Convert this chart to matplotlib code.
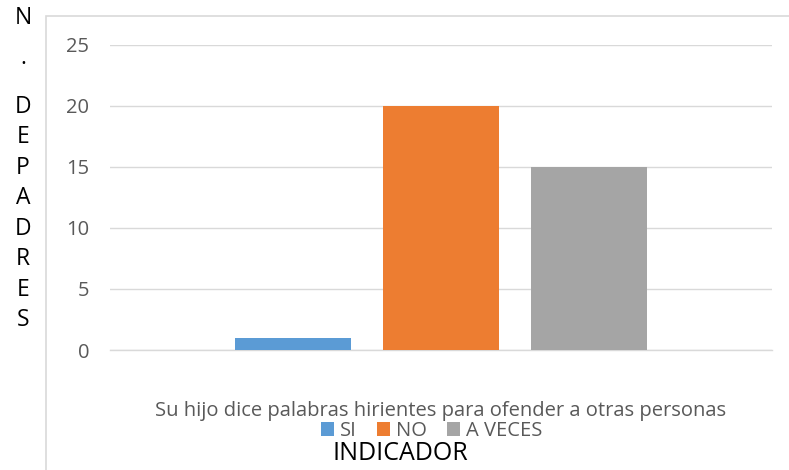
import matplotlib
matplotlib.use("Agg")
import matplotlib.pyplot as plt
from matplotlib.patches import Rectangle

# ── data ──────────────────────────────────────────────────────────────────────
category = "Su hijo dice palabras hirientes para ofender a otras personas"
series = ["SI", "NO", "A VECES"]
values = [1, 20, 15]
colors = ["#5B9BD5", "#ED7D31", "#A5A5A5"]
yticks = [0, 5, 10, 15, 20, 25]
ylabel_chars = ["N", ".", "D", "E", "P", "A", "D", "R", "E", "S"]

plt.rcParams["font.family"] = ["Open Sans", "DejaVu Sans"]

W, H = 789, 470
fig = plt.figure(figsize=(W / 100, H / 100), dpi=100)
ax = fig.add_axes([110 / W, 1 - 350 / H, 662 / W, 305 / H])

width = 0.175
step = 0.223
bars = []
for i, (name, v, c) in enumerate(zip(series, values, colors)):
    b = ax.bar((i - 1) * step, v, width=width, color=c, label=name, zorder=3)
    bars.append(b)

ax.set_xlim(-0.5, 0.5)
ax.set_ylim(0, 25)
ax.set_yticks(yticks)
ax.set_xticks([0])
ax.set_xticklabels([category])
ax.tick_params(axis="y", length=0, pad=15, labelsize=14.5, labelcolor="#595959")
ax.tick_params(axis="x", length=0, pad=37, labelsize=14.5, labelcolor="#595959")
ax.grid(axis="y", color="#D9D9D9", linewidth=1, zorder=0)
for s in ["top", "right", "left"]:
    ax.spines[s].set_visible(False)
ax.spines["bottom"].set_color("#D9D9D9")
ax.spines["bottom"].set_linewidth(1)

# legend below the category label
fig.legend(handles=[b[0] for b in bars], labels=series, loc="center",
           bbox_to_anchor=(432 / W, 1 - 431 / H), ncol=3, frameon=False,
           fontsize=14.5, handlelength=0.65, handleheight=0.65,
           handletextpad=0.3, columnspacing=1.0, labelcolor="#595959")

fig.text(400 / W, 1 - 453 / H, "INDICADOR", ha="center", va="center",
         fontsize=18, color="#000000")

# vertical y label, one character per line
ys = [18, 58, 107, 137, 168, 198, 229, 259, 290, 320]
for ch, y in zip(ylabel_chars, ys):
    fig.text(23 / W, 1 - y / H, ch, ha="center", va="center",
             fontsize=16.5, color="#000000")

# chart frame
fig.patches.append(Rectangle((46 / W, -0.05), 1.0, 1 - 16 / H + 0.05,
                             transform=fig.transFigure, fill=False,
                             edgecolor="#D9D9D9", linewidth=1.2))

fig.savefig("out.png", dpi=100)
